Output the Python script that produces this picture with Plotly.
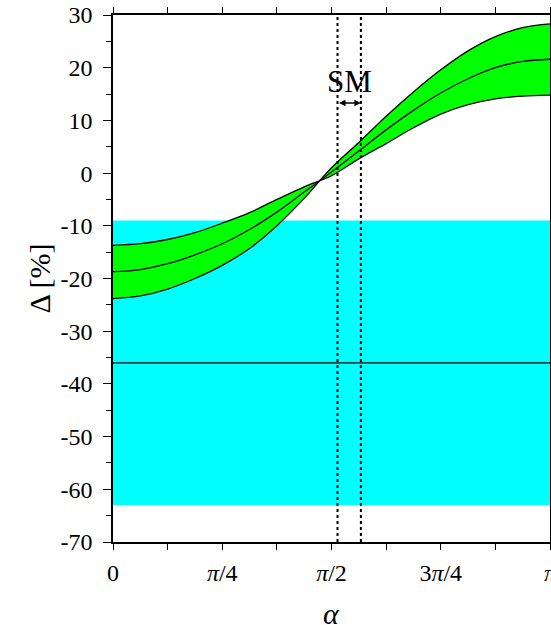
import math
import plotly.graph_objects as go

PI = math.pi

# angle grid (multiples of pi/16) and curves
alpha = [k * PI / 16 for k in range(17)]
delta_small = [-13.7, -13.4, -12.6, -11.3, -9.5, -7.5, -5.0, -2.6, -0.5,
               2.7, 5.6, 8.6, 11.2, 13.0, 14.1, 14.6, 14.8]
delta_center = [-18.7, -18.3, -17.2, -15.5, -13.4, -10.7, -7.4, -3.6, 0.2,
                4.2, 8.2, 11.9, 15.2, 17.9, 20.0, 21.2, 21.6]
delta_large = [-23.8, -23.3, -22.0, -20.0, -17.5, -14.3, -10.0, -4.8, 1.0,
               5.8, 10.8, 15.4, 19.6, 23.2, 25.9, 27.6, 28.3]

# horizontal band (cyan)
band_x = [0, PI]
band_low = -63
band_high = -9
band_center = -36

# SM range (vertical dotted lines)
sm_bounds = [1.614, 1.782]
sm_label = "SM"
sm_label_y = 17.4
sm_arrow_y = 13.3

# ticks
x_tickvals = [0, PI/4, PI/2, 3*PI/4, PI]
x_ticktext = ["0", "<i>π</i>/4", "<i>π</i>/2", "3<i>π</i>/4", "<i>π</i>"]
y_tickvals = [30, 20, 10, 0, -10, -20, -30, -40, -50, -60, -70]
y_ticktext = ["30", "20", "10", "0", "-10", "-20", "-30", "-40", "-50", "-60", "-70"]
x_title = "<i>α</i>"
y_title = "Δ [%]"

FONT = "Liberation Serif"

fig = go.Figure()

# cyan band
fig.add_trace(go.Scatter(x=band_x, y=[band_low]*2, mode="lines",
                         line=dict(width=0, color="#00ffff"), showlegend=False, hoverinfo="skip"))
fig.add_trace(go.Scatter(x=band_x, y=[band_high]*2, mode="lines", fill="tonexty",
                         fillcolor="#00ffff", line=dict(width=0, color="#00ffff"),
                         showlegend=False, hoverinfo="skip"))
fig.add_trace(go.Scatter(x=band_x, y=[band_center]*2, mode="lines",
                         line=dict(width=1.2, color="black"), showlegend=False))

# green band
fig.add_trace(go.Scatter(x=alpha, y=delta_small, mode="lines", line_shape="spline",
                         line=dict(width=1.3, color="black"), showlegend=False))
fig.add_trace(go.Scatter(x=alpha, y=delta_large, mode="lines", line_shape="spline",
                         fill="tonexty", fillcolor="#00ff00",
                         line=dict(width=1.3, color="black"), showlegend=False))
fig.add_trace(go.Scatter(x=alpha, y=delta_center, mode="lines", line_shape="spline",
                         line=dict(width=1.3, color="black"), showlegend=False))

# SM dotted lines
for xb in sm_bounds:
    fig.add_trace(go.Scatter(x=[xb, xb], y=[-70, 30], mode="lines",
                             line=dict(width=2, color="black", dash="dot"), showlegend=False))

fig.add_annotation(x=sum(sm_bounds)/2, y=sm_label_y, text=sm_label, showarrow=False,
                   font=dict(family=FONT, size=31, color="black"))
fig.add_annotation(x=sm_bounds[1], y=sm_arrow_y, ax=sm_bounds[0], ay=sm_arrow_y,
                   xref="x", yref="y", axref="x", ayref="y", text="",
                   showarrow=True, arrowhead=2, arrowside="end+start",
                   arrowsize=1.0, arrowwidth=1.3, arrowcolor="black")

# x-axis title as annotation (placed below tick labels)
fig.add_annotation(x=0.5, y=-0.135, xref="paper", yref="paper", text=x_title,
                   showarrow=False, yanchor="middle",
                   font=dict(family=FONT, size=30, color="black"))

fig.update_layout(
    width=551, height=625,
    margin=dict(l=113, r=1, t=15, b=83),
    plot_bgcolor="white", paper_bgcolor="white",
    font=dict(family=FONT, size=24, color="black"),
)
fig.update_xaxes(
    range=[0, PI], tickmode="array", tickvals=x_tickvals, ticktext=x_ticktext,
    ticks="outside", ticklen=6, tickwidth=1.2, tickcolor="black",
    minor=dict(tick0=0, dtick=PI/8, ticks="outside", ticklen=6, tickwidth=1.2, tickcolor="black"),
    showline=True, linecolor="black", linewidth=1.5, mirror="ticks",
    showgrid=False, zeroline=False, ticklabelstandoff=2, automargin=False,
    ticklabeloverflow="allow",
)
fig.update_yaxes(
    range=[-70, 30], tickmode="array", tickvals=y_tickvals, ticktext=y_ticktext,
    ticks="outside", ticklen=8, tickwidth=1.2, tickcolor="black",
    minor=dict(tick0=0, dtick=5, ticks="outside", ticklen=5, tickwidth=1.2, tickcolor="black"),
    showline=True, linecolor="black", linewidth=1.5, mirror="ticks",
    showgrid=False, zeroline=False, ticklabelstandoff=6, automargin=False,
    title=dict(text=y_title, font=dict(size=30), standoff=1),
)

fig.write_html(
    "out.html",
    config={"responsive": False, "displayModeBar": False},
    post_script="document.body.style.margin='0px'; document.body.style.overflow='hidden';",
)
